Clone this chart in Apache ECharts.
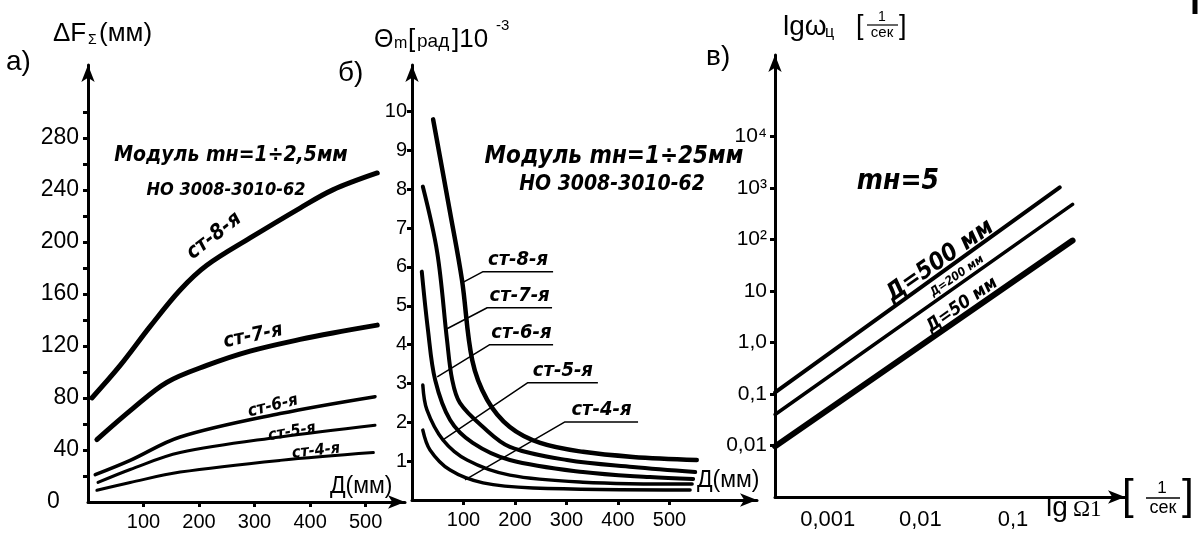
<!DOCTYPE html>
<html>
<head>
<meta charset="utf-8">
<script src="https://cdn.jsdelivr.net/npm/echarts@6/dist/echarts.min.js"></script>
<style>
    html, body { margin: 0; padding: 0; background: #fff; }
    #chart { width: 1199px; height: 537px; }
</style>
</head>
<body>
<div id="chart"></div>
<script>
(function () {
    'use strict';

    // а) ΔFΣ (мм) against Д (мм)
    var ticksA = [20, 40, 60, 80, 100, 120, 140, 160, 180, 200, 220, 240, 260, 280, 300];
    var labelsA = [0, 40, 80, 120, 160, 200, 240, 280];
    var diameterTicks = [100, 200, 300, 400, 500];
    var st8A = [[7, 80], [58, 105], [112, 135], [166, 163], [214, 182], [292, 203], [382, 226], [441, 240], [521, 253]];
    var st7A = [[16, 48], [81, 72], [142, 92], [214, 105], [292, 116], [382, 125], [441, 130], [521, 136]];
    var st6A = [[13, 21], [76, 32], [166, 50], [346, 68], [517, 81]];
    var st5A = [[18, 15], [76, 25], [166, 38], [346, 50], [517, 59]];
    var st4A = [[16, 9], [76, 15], [166, 23], [346, 32], [514, 38]];

    // б) Θm [рад]·10^-3 against Д (мм)
    var labelsB = [1, 2, 3, 4, 5, 6, 7, 8, 9, 10];
    var st8B = [[41, 9.8], [74, 7.4], [97, 5.67], [117, 3.6], [146, 2.58], [190, 1.88], [249, 1.47], [332, 1.24], [429, 1.11], [553, 1.03]];
    var st7B = [[21, 8.07], [49, 6.37], [68, 4.12], [78, 3.1], [93, 2.5], [138, 1.88], [190, 1.37], [301, 1.03], [429, 0.85], [550, 0.72]];
    var st6B = [[19, 5.88], [31, 4.38], [45, 3.09], [74, 2.06], [118, 1.47], [190, 1.03], [332, 0.72], [462, 0.59], [546, 0.54]];
    var st5B = [[21, 2.96], [29, 2.32], [60, 1.55], [107, 1.03], [190, 0.64], [332, 0.46], [544, 0.41]];
    var st4B = [[21, 1.8], [35, 1.29], [74, 0.77], [138, 0.44], [235, 0.31], [540, 0.26]];
    // leader lines of the curve names: curve point, underline start, underline end
    var leaderNames = ['ст-8-я', 'ст-7-я', 'ст-6-я', 'ст-5-я', 'ст-4-я'];
    var leaders = [
        [[97, 5.59], [138, 5.88], [274, 5.88]],
        [[68, 4.41], [146, 4.95], [272, 4.95]],
        [[49, 3.17], [151, 4.0], [274, 4.0]],
        [[60, 1.55], [225, 3.02], [361, 3.02]],
        [[103, 0.52], [297, 2.01], [439, 2.01]]
    ];

    // в) lg ωц [1/сек] against lg Ω1 [1/сек]
    var omegaLabelsX = { '-3': '0,001', '-2': '0,01', '-1': '0,1' };
    var omegaLabelsY = { '-2': '0,01', '-1': '0,1', '0': '1,0', '1': '10', '2': '10²', '3': '10³', '4': '10⁴' };
    var d500 = [[0.00027, 0.107], [0.32, 1020]];
    var d200 = [[0.00027, 0.04], [0.44, 480]];
    var d50 = [[0.00027, 0.0096], [0.44, 95]];

    var FONT = '"Liberation Sans", Arial, sans-serif';
    var HAND = '"DejaVu Sans Condensed", "DejaVu Sans", sans-serif';

    function axisLine(arrow) {
        return {
            show: true,
            onZero: false,
            symbol: arrow ? ['none', 'arrow'] : 'none',
            symbolSize: [10, 17],
            lineStyle: { color: '#000', width: 3 }
        };
    }

    function ticks(values) {
        return {
            show: !!values,
            customValues: values,
            length: 5,
            lineStyle: { color: '#000', width: 3 }
        };
    }

    function labels(values, size, margin, formatter) {
        return {
            customValues: values,
            color: '#000',
            fontFamily: FONT,
            fontSize: size,
            margin: margin,
            formatter: formatter
        };
    }

    function curve(data, x, y, width) {
        return {
            type: 'line',
            xAxisIndex: x,
            yAxisIndex: y,
            data: data,
            showSymbol: false,
            smooth: 0.35,
            silent: true,
            lineStyle: { color: '#000', width: width, cap: 'round' }
        };
    }

    function logPairs(data) {
        return data.map(function (p) {
            return [Math.log10(p[0]), Math.log10(p[1])];
        });
    }

    function text(x, y, str, size, o) {
        o = o || {};
        var font = (o.hand ? 'italic bold ' : '') + size + 'px ' + (o.family || (o.hand ? HAND : FONT));
        return {
            type: 'text',
            x: x,
            y: y,
            rotation: (o.rot || 0) * Math.PI / 180,
            silent: true,
            style: {
                text: str,
                fill: '#000',
                font: font,
                align: o.align || 'left',
                textAlign: o.align || 'left',
                verticalAlign: 'middle',
                textVerticalAlign: 'middle'
            }
        };
    }

    function line(x1, y1, x2, y2, w) {
        return {
            type: 'line',
            silent: true,
            shape: { x1: x1, y1: y1, x2: x2, y2: y2 },
            style: { stroke: '#000', lineWidth: w || 1.5 }
        };
    }

    var series = [
        curve(st8A, 0, 0, 5), curve(st7A, 0, 0, 5), curve(st6A, 0, 0, 3.5),
        curve(st5A, 0, 0, 3), curve(st4A, 0, 0, 3),
        curve(st8B, 1, 1, 4.5), curve(st7B, 1, 1, 4), curve(st6B, 1, 1, 4),
        curve(st5B, 1, 1, 3.5), curve(st4B, 1, 1, 3.5),
        curve(logPairs(d500), 2, 2, 4), curve(logPairs(d200), 2, 2, 3.5), curve(logPairs(d50), 2, 2, 6)
    ];

    leaders.forEach(function (pts, i) {
        var mid = [(pts[1][0] + pts[2][0]) / 2, pts[1][1]];
        series.push({
            type: 'line',
            xAxisIndex: 1,
            yAxisIndex: 1,
            silent: true,
            symbol: 'circle',
            symbolSize: 0,
            showSymbol: true,
            lineStyle: { color: '#000', width: 1.5 },
            data: [
                { value: pts[0] },
                { value: pts[1] },
                {
                    value: mid,
                    label: {
                        show: true,
                        position: 'top',
                        distance: 2,
                        formatter: leaderNames[i],
                        fontFamily: HAND,
                        fontStyle: 'italic',
                        fontWeight: 'bold',
                        fontSize: 20,
                        color: '#000'
                    }
                },
                { value: pts[2] }
            ]
        });
    });

    var graphics = [
        // panel letters
        text(6, 62, 'а)', 28), text(338, 73, 'б)', 28), text(706, 57, 'в)', 28),
        // а) axis titles
        text(53, 34, 'ΔF', 26), text(88, 40, 'Σ', 14), text(99, 34, '(мм)', 26),
        text(330, 487, 'Д(мм)', 23),
        // б) axis titles
        text(374, 40, 'Θ', 25), text(394, 44, 'm', 16), text(408, 40, '[', 26),
        text(417, 42, 'рад', 19), text(452, 40, ']10', 26), text(496, 26, '-3', 15),
        text(697, 481, 'Д(мм)', 23),
        // в) axis titles
        text(783, 27, 'lgω', 28), text(825, 33, 'ц', 16), text(856, 27, '[', 27),
        text(882, 17, '1', 14, { align: 'center' }), line(867, 25, 898, 25, 1.2),
        text(882, 33, 'сек', 15, { align: 'center' }), text(899, 27, ']', 27),
        text(1046, 508, 'lg', 28), text(1073, 510, 'Ω1', 23, { family: '"Liberation Serif", serif' }),
        text(1122, 497, '[', 42), text(1162, 488, '1', 17, { align: 'center' }),
        line(1146, 498, 1180, 498, 1.5), text(1163, 508, 'сек', 18, { align: 'center' }),
        text(1182, 497, ']', 42),
        // а) notes
        text(231, 156, 'Модуль mн=1÷2,5мм', 21, { hand: true, align: 'center' }),
        text(226, 190, 'НО 3008-3010-62', 18, { hand: true, align: 'center' }),
        text(214, 236, 'ст-8-я', 21, { hand: true, align: 'center', rot: 38 }),
        text(253, 336, 'ст-7-я', 20, { hand: true, align: 'center', rot: 12 }),
        text(273, 406, 'ст-6-я', 17, { hand: true, align: 'center', rot: 14 }),
        text(292, 432, 'ст-5-я', 16, { hand: true, align: 'center', rot: 10 }),
        text(316, 451, 'ст-4-я', 16, { hand: true, align: 'center', rot: 6 }),
        // б) notes
        text(614, 157, 'Модуль mн=1÷25мм', 24, { hand: true, align: 'center' }),
        text(612, 185, 'НО 3008-3010-62', 21, { hand: true, align: 'center' }),
        // в) notes
        text(898, 182, 'mн=5', 28, { hand: true, align: 'center' }),
        text(940, 261, 'Д=500 мм', 24, { hand: true, align: 'center', rot: 35 }),
        text(957, 276, 'Д=200 мм', 12, { hand: true, align: 'center', rot: 35 }),
        text(962, 305, 'Д=50 мм', 18, { hand: true, align: 'center', rot: 35 }),
        // scan mark at the right edge
        line(1195, 0, 1195, 14, 5)
    ];

    var chart = echarts.init(document.getElementById('chart'), null, { renderer: 'canvas' });

    chart.setOption({
        animation: false,
        backgroundColor: '#fff',
        grid: [
            { left: 88, top: 65, width: 317, height: 437 },
            { left: 412, top: 65, width: 345, height: 435 },
            { left: 775, top: 55, width: 350, height: 442 }
        ],
        xAxis: [
            {
                gridIndex: 0, type: 'value', min: 0, max: 571,
                axisLine: axisLine(true), axisTick: ticks(diameterTicks),
                axisLabel: labels(diameterTicks, 20, 10), splitLine: { show: false }
            },
            {
                gridIndex: 1, type: 'value', min: 0, max: 670,
                axisLine: axisLine(true), axisTick: ticks(diameterTicks),
                axisLabel: labels(diameterTicks, 20, 10), splitLine: { show: false }
            },
            {
                gridIndex: 2, type: 'value', min: -3.57, max: 0.21,
                axisLine: axisLine(true), axisTick: { show: false },
                axisLabel: labels([-3, -2, -1], 22, 12, function (v) { return omegaLabelsX[String(v)]; }),
                splitLine: { show: false }
            }
        ],
        yAxis: [
            {
                gridIndex: 0, type: 'value', min: 0, max: 336,
                axisLine: axisLine(true), axisTick: ticks(ticksA),
                axisLabel: labels(labelsA, 23, 9, function (v) { return v === 0 ? '0   ' : String(v); }),
                splitLine: { show: false }
            },
            {
                gridIndex: 1, type: 'value', min: 0, max: 11.2,
                axisLine: axisLine(true), axisTick: ticks(labelsB),
                axisLabel: labels(labelsB, 20, 5), splitLine: { show: false }
            },
            {
                gridIndex: 2, type: 'value', min: -3, max: 5.58,
                axisLine: axisLine(true), axisTick: ticks([-2, -1, 0, 1, 2, 3, 4]),
                axisLabel: labels([-2, -1, 0, 1, 2, 3, 4], 21, 8, function (v) { return omegaLabelsY[String(v)]; }),
                splitLine: { show: false }
            }
        ],
        series: series,
        graphic: { elements: graphics }
    });
}());
</script>
</body>
</html>
